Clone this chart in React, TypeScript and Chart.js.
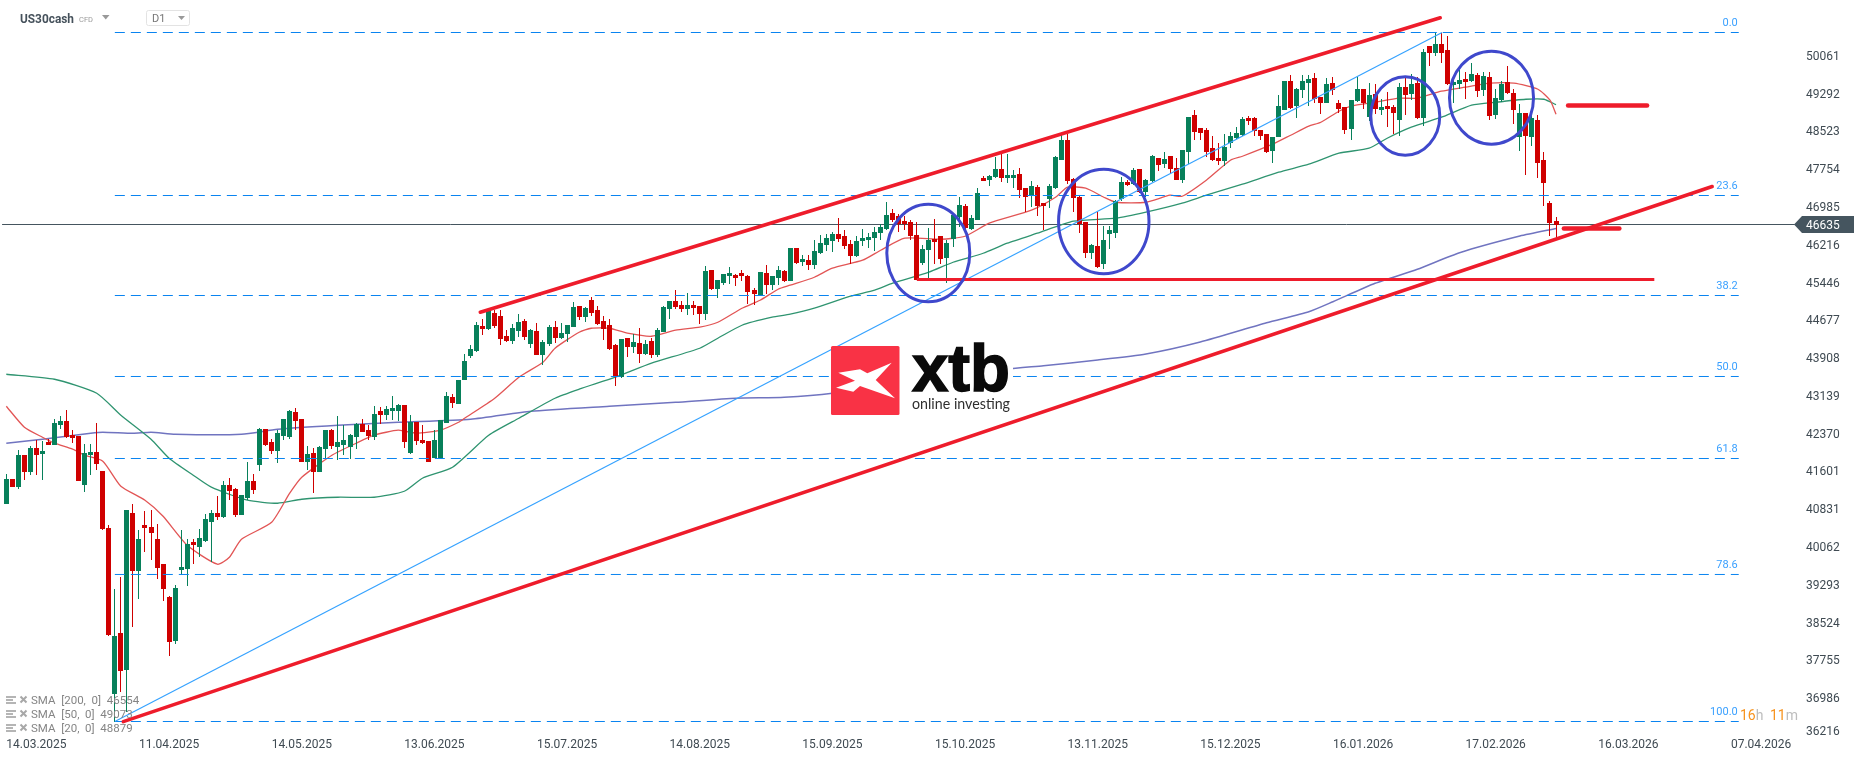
import React, { useEffect, useRef } from "react";
import { Chart, registerables } from "chart.js";

Chart.register(...registerables);

const OPENS = [
40950,41451,41289,41940,41594,42082,41967,42218,42150,42550,
42632,42347,42326,41329,41940,42001,41614,40454,37076,38318,
37565,40760,39579,40515,40475,40231,39722,39050,38155,39600,
39620,40170,40068,40190,40576,40760,40678,41329,41248,40719,
41065,41411,41736,42469,42204,42021,42326,42306,42815,42672,
41797,41981,41594,42062,42449,42103,42143,42103,42306,42571,
42449,42306,42835,42754,42835,42835,42957,41981,42611,42245,
42225,41879,41879,42591,43120,42978,43466,43955,44056,44565,
44504,44830,44768,44362,44260,44463,44667,44199,44463,43975,
44199,44545,44321,44402,44545,44972,44748,45094,44891,44667,
44585,44178,43527,44321,44138,44219,43995,44260,43975,44443,
44911,45074,44992,44911,44992,44972,44809,45705,45318,45440,
45583,45603,45644,45583,45298,45176,45644,45399,45542,45684,
45481,46152,45867,45908,45806,46050,46213,46295,46437,46396,
46234,45989,46295,46315,46356,46458,46539,46864,46803,46702,
46681,46417,45847,46112,46335,46397,45949,46335,46783,47007,
46539,46722,47577,47536,47597,47760,47577,47577,47658,47373,
47231,47394,47068,47149,47373,47943,48350,47556,47190,46681,
46051,46193,45827,46437,46458,47149,47495,47455,47760,47292,
47516,47984,47862,48024,47780,47536,48106,48859,48594,48554,
48187,47984,47923,48289,48391,48452,48798,48798,48554,48472,
48126,48411,48961,49551,49042,49368,49510,49612,49225,49103,
49510,49103,49022,48574,49144,49388,48818,49286,48961,49042,
49022,48757,49429,49286,49510,48798,50263,50120,50304,50182,
49469,49490,49591,49551,49673,49368,49632,48859,49164,49530,
49307,48411,48900,48411,48757,47943,47068,46702];

const CLOSES = [
41451,41289,41940,41594,42082,41940,42021,42150,42591,42632,
42306,42286,41411,41981,42001,41757,40434,38277,38257,37544,
40821,39579,40231,40454,40353,39640,39213,38134,39233,39661,
40129,40108,40251,40637,40760,40678,41329,41207,40719,41126,
41411,41228,42469,42143,42021,42387,42672,42835,42632,41797,
41960,41594,42103,42449,42123,42204,42245,42347,42571,42408,
42326,42774,42754,42876,42896,42957,42204,42611,42225,42184,
41797,42245,42652,43140,42998,43466,43853,44097,44585,44504,
44870,44565,44300,44260,44524,44646,44341,44484,43975,44239,
44545,44321,44423,44585,44952,44748,44931,44830,44606,44504,
44097,43548,44300,44138,44239,43995,44199,43975,44484,44952,
45074,44952,44911,44992,44931,44809,45684,45318,45501,45623,
45644,45555,45583,45257,45216,45664,45399,45583,45705,45481,
46152,45847,45928,45806,46091,46254,46356,46437,46335,46193,
45989,46295,46356,46376,46478,46580,46824,46722,46641,46641,
46396,45501,46132,46315,46274,45929,46254,46824,47027,46559,
46763,47272,47516,47617,47760,47577,47638,47638,47333,47190,
47414,47007,47007,47414,48004,48350,47516,47170,46641,46051,
46213,45766,46315,46519,47109,47495,47434,47740,47292,47536,
48024,47841,47964,47760,47536,48147,48818,48513,48492,48106,
47943,47923,48208,48431,48492,48777,48737,48533,48431,48106,
48411,49042,49551,49001,49388,49551,49591,49185,49103,49490,
49368,48981,48554,49164,49388,49103,49266,48981,49022,48981,
48900,49429,49266,49490,48798,50141,50120,50304,50120,49490,
49530,49571,49530,49693,49347,49652,48839,49205,49490,49307,
48961,48900,48432,48798,47882,47475,46661,46635];

const HIGHS = [
41553,41451,42042,41940,42123,42245,42225,42279,42672,42733,
42856,42449,42326,42164,42164,42591,41614,40515,39213,39457,
40821,40943,40414,40800,40821,40536,39722,39070,39294,40414,
40230,40231,40434,40739,40821,41105,41411,41472,41268,41126,
41797,41553,42489,42469,42265,42449,42672,42856,42896,42672,
42123,42082,42123,42449,42469,42733,42550,42367,42591,42672,
42550,42937,42917,42937,43140,42978,42957,42754,42611,42550,
42225,42449,42652,43222,43181,43466,44009,44178,44646,44707,
44870,44891,44891,44484,44606,44809,44707,44504,44626,44280,
44585,44667,44626,44585,45053,44972,44952,45155,44972,44768,
44707,44199,44300,44321,44402,44524,44280,44321,44524,44972,
45074,45298,45074,45236,45074,44972,45786,45705,45501,45623,
45766,45623,45705,45603,45338,45664,45806,45583,45786,45705,
46152,46152,46010,46010,46315,46417,46437,46478,46763,46519,
46315,46396,46539,46458,46580,46641,47088,46946,46844,46803,
46722,46681,46213,46559,46742,46397,46315,46824,47190,47048,
46824,47373,47617,47638,48004,48085,48065,47740,47780,47373,
47516,47434,47068,47455,48024,48472,48472,47577,47211,46681,
46234,46885,46600,46600,47129,47597,47536,47780,47760,47556,
48045,47984,48106,48024,47984,48147,48818,48961,48594,48594,
48431,48289,48472,48513,48615,48818,48839,48818,48554,48472,
48411,49266,49551,49673,49408,49673,49673,49714,49225,49612,
49632,49164,49022,49164,49632,49388,49510,49490,49185,49327,
49062,49510,49652,49693,49632,50202,50263,50548,50527,50466,
49612,49775,49734,49917,49714,49734,49734,49388,49551,49856,
49388,49083,48900,48879,48859,48106,47109,46783];

const LOWS = [
40950,41289,41255,41431,41533,41533,41431,42150,42150,42469,
42286,42191,41411,41187,41533,41635,40414,38257,36513,37117,
36710,38440,39010,39966,39803,39417,38969,37850,38094,39512,
39274,39722,39864,40170,39762,40617,40658,41024,40678,40719,
41024,41146,41614,42123,41960,41777,42245,42265,42449,41797,
41635,41167,41594,41879,42062,41838,41940,41858,42062,42408,
42245,42245,42571,42652,42652,42632,42082,41960,42143,42164,
41797,41879,41858,42591,42896,42978,43466,43914,44036,44382,
44484,44524,44178,44240,44199,44341,44280,44117,43975,43771,
44158,44219,44300,44239,44545,44687,44646,44768,44585,44280,
44077,43344,43507,43934,44016,43812,43975,43914,43934,44443,
44707,44911,44850,44789,44789,44606,44687,45298,45135,45399,
45420,45379,45481,45013,44992,45176,45216,45298,45399,45460,
45481,45827,45786,45705,45725,46030,46091,46071,46274,46132,
45827,45969,46193,46152,46091,46315,46519,46681,46478,46519,
46315,45501,45806,45542,45827,45827,45440,46173,46580,46519,
46519,46722,47516,47414,47577,47495,47475,47373,47170,46885,
46987,46804,46519,46966,47353,47943,47455,46885,46458,45949,
45929,45745,45725,46132,46356,47109,47414,47434,47272,47190,
47495,47719,47780,47658,47536,47475,47862,48350,48350,48004,
47923,47841,47821,48187,48370,48431,48655,48431,48350,48086,
47882,48411,48961,48981,48798,49205,49042,49103,48879,49103,
49266,48900,48472,48350,49123,48981,48737,48879,48859,48615,
48472,48432,48859,49164,48777,48635,49856,50059,49917,49469,
49103,49388,49185,49530,49225,49245,48757,48777,49123,49286,
48676,48126,47638,48228,47577,47007,46397,46356];

const SMA20_AT = [0,3,6,8,11,13,16,19,23,26,30,35,37,39,44,47,49,54,58,61,65,68,72,75,76,81,85,89,91,95,97,100,103,107,111,115,118,122,125,128,130,134,137,142,145,149,155,159,163,170,174,176,179,182,184,189,193,195,199,203,205,210,213,216,218,221,223,227,231,234,238,242,246,250,254,256,257];
const SMA20_VALUES = [42937,42510,42306,42184,42062,41940,41818,41309,41024,40698,40108,39722,39864,40230,40576,41167,41492,41940,42184,42347,42449,42388,42449,42611,42692,43100,43527,43832,44117,44443,44524,44524,44423,44361,44484,44545,44646,44931,45094,45318,45399,45562,45745,45908,46112,46356,46335,46396,46661,46926,47190,47394,47373,47190,47088,47088,47231,47210,47536,47943,48024,48269,48452,48635,48716,48940,49042,49123,49205,49205,49347,49429,49510,49510,49388,49164,48879];

const SMA50_AT = [0,8,15,19,24,27,31,34,40,45,49,55,61,66,69,74,80,85,91,95,101,107,115,118,122,127,130,134,140,144,147,153,157,162,166,171,177,184,189,195,199,205,211,216,221,226,229,233,238,243,247,252,255,257];
const SMA50_VALUES = [43588,43486,43201,42754,42265,41879,41533,41289,41024,40963,41044,41085,41085,41207,41472,41696,42347,42693,43100,43283,43527,43812,44117,44321,44585,44748,44809,44931,45175,45298,45440,45664,45867,46050,46254,46458,46702,46763,46885,47068,47231,47455,47699,47862,48085,48187,48391,48615,48818,49062,49123,49184,49184,49073];

const SMA200_AT = [0,6,14,16,21,24,28,39,45,55,65,77,87,100,111,121,129,137,166,172,181,189,198,209,216,220,227,234,241,251,257];
const SMA200_VALUES = [42184,42265,42387,42408,42387,42408,42367,42367,42469,42550,42611,42672,42835,42937,43018,43100,43120,43201,43694,43762,43878,44000,44244,44636,44860,45064,45438,45723,46061,46401,46554];

const UPPER_TREND_AT = [78.6, 237.8];
const UPPER_TREND_VALUES = [44850, 50843];
const LOWER_TREND_AT = [19.4, 282.9];
const LOWER_TREND_VALUES = [36517, 47408];
const FIB_DIAGONAL_AT = [18, 238.1];
const FIB_DIAGONAL_VALUES = [36521, 50542];

const FIB_AT = [18, 287.3];
const FIB_NAMES = ["0.0", "23.6", "38.2", "50.0", "61.8", "78.6", "100.0"];
const FIB_VALUES = [50542, 47225, 45190, 43542, 41873, 39513, 36521];

const SUPPORT_AT = [151, 273.3];
const SUPPORT_VALUE = 45515;
const TARGET_HIGH_AT = [259, 272.1];
const TARGET_HIGH_VALUE = 49056;
const TARGET_LOW_AT = [258.3, 267.5];
const TARGET_LOW_VALUE = 46553;
const PRICE_LINE_AT = [-0.7, 296.6];
const LAST_PRICE = 46635;

const CIRCLE_AT = [152.9, 182.0, 232.0, 246.3];
const CIRCLE_SPAN = [6.88, 7.5, 5.72, 6.97];
const CIRCLE_PRICE = [46055, 46696, 48843, 49215];
const CIRCLE_RANGE = [993, 1064, 798, 946];

const Y_TICKS = [50061,49292,48523,47754,46985,46216,45446,44677,43908,43139,42370,41601,40831,40062,39293,38524,37755,36986];
const Y_LAST_TICK = 36216;
const X_TICK_AT = [5,27,49,71,93,115,137,159,181,203,225,247,269,291];
const X_DATES = ["14.03.2025","11.04.2025","14.05.2025","13.06.2025","15.07.2025","14.08.2025","15.09.2025","15.10.2025","13.11.2025","15.12.2025","16.01.2026","17.02.2026","16.03.2026","07.04.2026"];
const SMA_LEGEND = ["SMA  [200,  0]  46554", "SMA  [50,  0]  49073", "SMA  [20,  0]  48879"];

const UP = "#07805a";
const DOWN = "#cf0000";
const TREND = "#ee1c2b";
const FONT = "Roboto";

const pairs = (at: number[], vals: number[]) => at.map((x, i) => ({ x, y: vals[i] }));
const flat = (at: number[], v: number) => at.map((x) => ({ x, y: v }));
const plainLine = (data: any, color: string, width: number, extra: any = {}) => ({
  type: "line", data, borderColor: color, borderWidth: width, pointRadius: 0, fill: false, tension: 0, ...extra,
});

const snapBars = {
  id: "snapBars",
  beforeDatasetsDraw(chart: any) {
    chart.getSortedVisibleDatasetMetas().forEach((meta: any) => {
      if (meta.type !== "bar") return;
      meta.data.forEach((el: any) => {
        el.x = Math.floor(el.x) + 0.5;
        el.y = Math.round(el.y);
        el.base = Math.round(el.base);
        if (el.base === el.y) el.base = el.y + 1;
      });
    });
  },
};

const overlay = {
  id: "overlay",
  afterDatasetsDraw(chart: any) {
    const { ctx, scales } = chart;
    const X = scales.x, Y = scales.y;
    ctx.save();

    // hand-drawn circles
    ctx.strokeStyle = "#3f48cc";
    ctx.lineWidth = 3;
    CIRCLE_AT.forEach((c, i) => {
      const cx = X.getPixelForValue(c);
      const cy = Y.getPixelForValue(CIRCLE_PRICE[i]);
      const rx = X.getPixelForValue(c + CIRCLE_SPAN[i]) - cx;
      const ry = cy - Y.getPixelForValue(CIRCLE_PRICE[i] + CIRCLE_RANGE[i]);
      ctx.beginPath();
      ctx.ellipse(cx, cy, rx, ry, 0, 0, Math.PI * 2);
      ctx.stroke();
    });

    // fibonacci labels
    ctx.font = `11px ${FONT}`;
    ctx.fillStyle = "#3aa0ff";
    ctx.textAlign = "right";
    ctx.textBaseline = "middle";
    FIB_NAMES.forEach((n, i) => {
      ctx.fillText(n, X.getPixelForValue(FIB_AT[1]) - 1, Y.getPixelForValue(FIB_VALUES[i]) - 9);
    });

    // logo
    ctx.fillStyle = "#ffffff";
    ctx.fillRect(899, 346, 114, 69);
    ctx.fillStyle = "#f93245";
    ctx.beginPath();
    ctx.roundRect(831, 346, 68.5, 69, 1.5);
    ctx.fill();
    ctx.fillStyle = "#ffffff";
    ctx.beginPath();
    [[838.3,372.7],[860,369.3],[867.3,373.3],[891.7,362.7],[875.7,380],[895,398.3],[860,386],[853.3,391.7],[836,387.7],[855,380.7]].forEach(([a, b], i) => {
      if (i === 0) ctx.moveTo(a, b); else ctx.lineTo(a, b);
    });
    ctx.closePath();
    ctx.fill();
    ctx.fillStyle = "#0a0a0a";
    ctx.strokeStyle = "#0a0a0a";
    ctx.lineWidth = 1.5;
    ctx.textAlign = "left";
    ctx.textBaseline = "alphabetic";
    ctx.font = "bold 66px 'Liberation Sans'";
    ctx.fillText("xtb", 912, 391, 98);
    ctx.strokeText("xtb", 912, 391, 98);
    ctx.fillStyle = "#2f2f2f";
    ctx.font = "15px Lato";
    ctx.fillText("online investing", 912, 409, 98);

    // top-left instrument header
    ctx.fillStyle = "#45515b";
    ctx.font = `bold 13px ${FONT}`;
    ctx.textBaseline = "middle";
    ctx.fillText("US30cash", 20, 19.5, 54);
    ctx.fillStyle = "#9a9a9a";
    ctx.font = `7.5px ${FONT}`;
    ctx.fillText("CFD", 79, 20);
    const tri = (x: number, y: number, w: number, h: number, col: string) => {
      ctx.fillStyle = col;
      ctx.beginPath();
      ctx.moveTo(x, y);
      ctx.lineTo(x + w, y);
      ctx.lineTo(x + w / 2, y + h);
      ctx.closePath();
      ctx.fill();
    };
    tri(102, 15, 7.5, 4.5, "#999999");
    ctx.strokeStyle = "#e3e3e3";
    ctx.lineWidth = 1;
    ctx.beginPath();
    ctx.roundRect(146.5, 10.5, 43, 15, 2);
    ctx.stroke();
    ctx.fillStyle = "#777777";
    ctx.font = `11px ${FONT}`;
    ctx.fillText("D1", 152, 19.5);
    tri(178, 16, 7, 4, "#999999");

    // indicator legend
    ctx.font = `11.5px ${FONT}`;
    SMA_LEGEND.forEach((t, i) => {
      const ly = 701 + i * 14;
      ctx.fillStyle = "#b5b5b5";
      ctx.fillRect(6, ly - 5, 10, 2);
      ctx.fillRect(6, ly - 2, 7, 2);
      ctx.fillRect(6, ly + 1, 10, 2);
      ctx.strokeStyle = "#a8a8a8";
      ctx.lineWidth = 2;
      ctx.beginPath();
      ctx.moveTo(20.5, ly - 4.5);
      ctx.lineTo(26.5, ly + 1.5);
      ctx.moveTo(26.5, ly - 4.5);
      ctx.lineTo(20.5, ly + 1.5);
      ctx.stroke();
      ctx.fillStyle = "#858585";
      ctx.fillText(t, 31, ly + 0.5);
    });

    // candle timer
    ctx.font = `14px ${FONT}`;
    const parts: [string, string][] = [["16", "#f7931e"], ["h", "#bdbdbd"], [" ", "#bdbdbd"], ["11", "#f7931e"], ["m", "#bdbdbd"]];
    let tx = 1740;
    parts.forEach(([s, col]) => {
      ctx.fillStyle = col;
      ctx.fillText(s, tx, 716);
      tx += ctx.measureText(s).width + (s === " " ? 3 : 0);
    });

    // last y label, lifted clear of the date row
    ctx.fillStyle = "#3f4a52";
    ctx.font = `12px ${FONT}`;
    ctx.fillText(String(Y_LAST_TICK), X.right + 6, Y.getPixelForValue(Y_LAST_TICK) - 5);

    // last-price tag
    const py = Y.getPixelForValue(LAST_PRICE);
    ctx.fillStyle = "#45555f";
    ctx.beginPath();
    ctx.moveTo(1794, py);
    ctx.lineTo(1802, py - 8.5);
    ctx.lineTo(1854, py - 8.5);
    ctx.lineTo(1854, py + 8.5);
    ctx.lineTo(1802, py + 8.5);
    ctx.closePath();
    ctx.fill();
    ctx.fillStyle = "#ffffff";
    ctx.fillText(String(LAST_PRICE), 1806, py + 1);
    ctx.restore();
  },
};

export default function App() {
  const ref = useRef<HTMLCanvasElement>(null);
  useEffect(() => {
    const idx = OPENS.map((_, i) => i);
    const isUp = idx.map((i) => CLOSES[i] >= OPENS[i]);
    const colors = isUp.map((u) => (u ? UP : DOWN));
    const wicks = idx.map((i) => ({ x: i, y: [LOWS[i], HIGHS[i]] }));
    const bodies = idx.map((i) => ({ x: i, y: [Math.min(OPENS[i], CLOSES[i]), Math.max(OPENS[i], CLOSES[i])] }));

    const datasets: any[] = [
      plainLine(pairs(UPPER_TREND_AT, UPPER_TREND_VALUES), TREND, 3.5, { borderCapStyle: "round" }),
      plainLine(pairs(LOWER_TREND_AT, LOWER_TREND_VALUES), TREND, 3.5, { borderCapStyle: "round" }),
      plainLine(flat(SUPPORT_AT, SUPPORT_VALUE), TREND, 3),
      plainLine(flat(TARGET_HIGH_AT, TARGET_HIGH_VALUE), TREND, 4.5, { borderCapStyle: "round" }),
      plainLine(flat(TARGET_LOW_AT, TARGET_LOW_VALUE), TREND, 4.5, { borderCapStyle: "round" }),
      plainLine(pairs(FIB_DIAGONAL_AT, FIB_DIAGONAL_VALUES), "#35a2ff", 1.2),
      ...FIB_VALUES.map((v) => plainLine(flat(FIB_AT, v), "#0a84f0", 1, { borderDash: [10, 6] })),
      { type: "bar", data: bodies, backgroundColor: colors, barThickness: 5, grouped: false, inflateAmount: 0, borderWidth: 0 },
      { type: "bar", data: wicks, backgroundColor: colors, barThickness: 1, grouped: false, inflateAmount: 0, borderWidth: 0 },
      plainLine(pairs(SMA20_AT, SMA20_VALUES), "#e25555", 1.3, { tension: 0.2 }),
      plainLine(pairs(SMA50_AT, SMA50_VALUES), "#2f9470", 1.3, { tension: 0.2 }),
      plainLine(pairs(SMA200_AT, SMA200_VALUES), "#7074c0", 1.5, { tension: 0.2 }),
      plainLine(flat(PRICE_LINE_AT, LAST_PRICE), "#45555f", 1),
    ];

    const chart = new Chart(ref.current as HTMLCanvasElement, {
      type: "line",
      data: { datasets },
      plugins: [snapBars, overlay],
      options: {
        animation: false,
        responsive: false,
        layout: { padding: 0 },
        plugins: { legend: { display: false }, tooltip: { enabled: false } },
        scales: {
          x: {
            type: "linear",
            offset: false,
            min: -1.045,
            max: 297.46,
            grid: { display: false, drawTicks: false },
            border: { display: false },
            afterFit: (s: any) => { s.height = 23; s.paddingLeft = 0; s.paddingRight = 0; },
            afterBuildTicks: (s: any) => { s.ticks = X_TICK_AT.map((value) => ({ value })); },
            ticks: {
              autoSkip: false,
              maxRotation: 0,
              padding: 0,
              color: "#3f4a52",
              font: { family: FONT, size: 12 },
              callback: (_: any, i: number) => X_DATES[i],
            },
          },
          y: {
            type: "linear",
            position: "right",
            min: 36185.5,
            max: 51203.5,
            grid: { display: false, drawTicks: false },
            border: { display: false },
            afterFit: (s: any) => { s.width = 66; s.paddingTop = 0; s.paddingBottom = 0; },
            afterBuildTicks: (s: any) => { s.ticks = Y_TICKS.map((value) => ({ value })); },
            ticks: {
              autoSkip: false,
              padding: 6,
              labelOffset: 0.6,
              color: "#3f4a52",
              font: { family: FONT, size: 12 },
              callback: (v: any) => String(v),
            },
          },
        },
      },
    } as any);
    return () => chart.destroy();
  }, []);

  return (
    <div style={{ position: "fixed", left: 0, top: 0, width: 1866, height: 761, background: "#ffffff" }}>
      <canvas ref={ref} width={1866} height={761} style={{ display: "block", width: 1866, height: 761 }} />
    </div>
  );
}
